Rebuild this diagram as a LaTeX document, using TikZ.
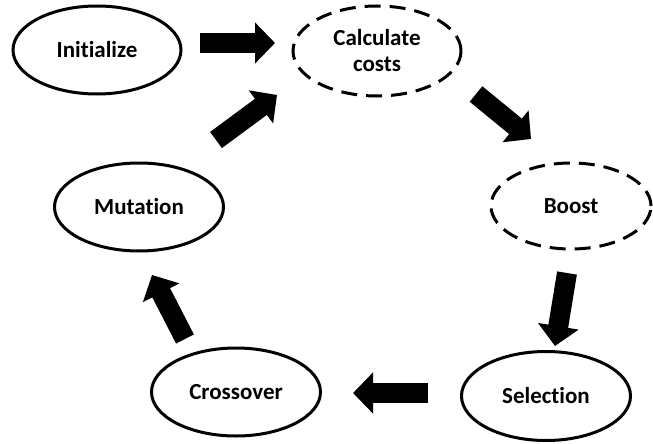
\documentclass[tikz,border=0pt]{standalone}
\usepackage{fontspec}
\setmainfont[Ligatures={NoCommon}]{Carlito}
\usetikzlibrary{shapes.geometric,arrows.meta}
\tikzset{
  stage/.style={ellipse, draw, line width=3pt, align=center,
    font=\fontsize{23}{26}\selectfont\bfseries, inner sep=0pt},
  dashedstage/.style={stage, dash pattern=on 16pt off 9pt},
  blockarrow/.style={line width=20pt, -{Triangle[width=40pt,length=20pt]}}
}
\begin{document}
\begin{tikzpicture}[x=1pt,y=-1pt]
\useasboundingbox (0,0) rectangle (653,444);
\node[stage, minimum width=168pt, minimum height=88pt] (init) at (97,50) {Initialize};
\node[dashedstage, minimum width=168pt, minimum height=90pt] (calc) at (377,51) {Calculate\\costs};
\node[dashedstage, minimum width=160pt, minimum height=86pt] (boost) at (571,206) {Boost};
\node[stage, minimum width=169pt, minimum height=89pt] (sel) at (546,396) {Selection};
\node[stage, minimum width=169pt, minimum height=88pt] (cross) at (236,392) {Crossover};
\node[stage, minimum width=169pt, minimum height=88pt] (mut) at (139,207) {Mutation};
\coordinate (a1s) at (200,43);  \coordinate (a1e) at (275,43);
\coordinate (a2s) at (476,94);  \coordinate (a2e) at (531,139);
\coordinate (a3s) at (567,273); \coordinate (a3e) at (555,346);
\coordinate (a4s) at (428,393); \coordinate (a4e) at (353,393);
\coordinate (a5s) at (185,339); \coordinate (a5e) at (152,275);
\coordinate (a6s) at (216,140); \coordinate (a6e) at (277,95);
\draw[blockarrow] (a1s) -- (a1e);
\draw[blockarrow] (a2s) -- (a2e);
\draw[blockarrow] (a3s) -- (a3e);
\draw[blockarrow] (a4s) -- (a4e);
\draw[blockarrow] (a5s) -- (a5e);
\draw[blockarrow] (a6s) -- (a6e);
\end{tikzpicture}
\end{document}
